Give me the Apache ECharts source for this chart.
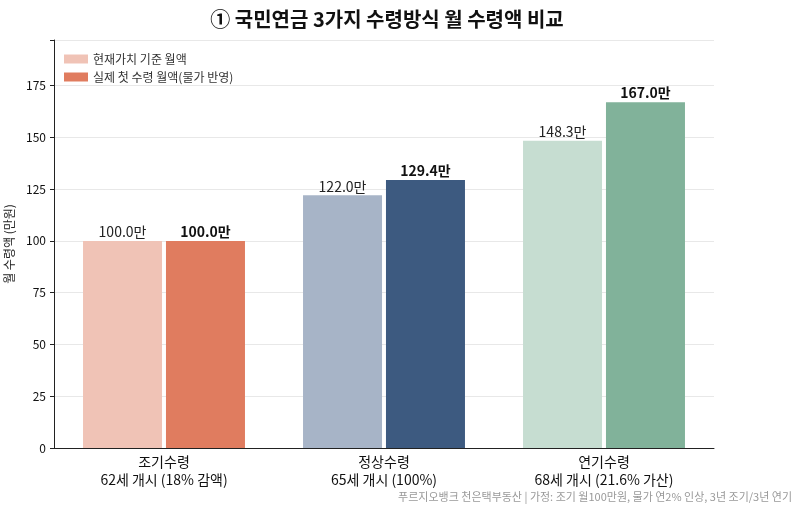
<!DOCTYPE html>
<html>
<head>
<meta charset="utf-8">
<script src="https://cdn.jsdelivr.net/npm/echarts@6/dist/echarts.min.js"></script>
<style>
  html, body { margin: 0; padding: 0; background: #fff; }
  #chart { width: 800px; height: 510px; }
</style>
</head>
<body>
<div id="chart"></div>
<script>
const categories = ['조기수령\n62세 개시 (18% 감액)', '정상수령\n65세 개시 (100%)', '연기수령\n68세 개시 (21.6% 가산)']
const presentValue = [100.0, 122.0, 148.3]
const actualValue = [100.0, 129.4, 167.0]
const lightColors = ['#f0c3b6', '#a7b4c7', '#c6ddd1']
const darkColors = ['#e07c5f', '#3d5a80', '#81b29a']
const yTicks = [0, 25, 50, 75, 100, 125, 150, 175]

const font = '"Noto Sans CJK KR", "Noto Sans", sans-serif'
const chart = echarts.init(document.getElementById('chart'))

const option = {
  backgroundColor: '#fff',
  textStyle: { fontFamily: font },
  title: {
    text: '① 국민연금 3가지 수령방식 월 수령액 비교',
    left: 382,
    textAlign: 'center',
    top: 4,
    textStyle: { fontFamily: font, fontSize: 20, fontWeight: 'bold', color: '#111' }
  },
  legend: {
    orient: 'vertical',
    left: 59,
    top: 48,
    icon: 'rect',
    itemWidth: 24,
    itemHeight: 9,
    itemGap: 6,
    textStyle: { fontFamily: font, fontSize: 12, color: '#333' },
    data: ['현재가치 기준 월액', '실제 첫 수령 월액(물가 반영)']
  },
  grid: { left: 54, right: 86, top: 40, bottom: 62, outerBoundsMode: 'none' },
  xAxis: {
    type: 'category',
    data: categories,
    axisLine: { lineStyle: { color: '#222', width: 1 } },
    axisTick: { alignWithLabel: true, length: 4, lineStyle: { color: '#222' } },
    axisLabel: { fontFamily: font, fontSize: 14, color: '#111', lineHeight: 18, margin: 5 }
  },
  yAxis: {
    type: 'value',
    min: 0,
    max: 197,
    interval: 25,
    name: '월 수령액 (만원)',
    nameLocation: 'middle',
    nameGap: 35,
    nameTextStyle: { fontFamily: font, fontSize: 12, color: '#222' },
    axisLine: { show: true, lineStyle: { color: '#222', width: 1 } },
    axisTick: { show: true, length: 4, lineStyle: { color: '#222' } },
    axisLabel: {
      fontFamily: font, fontSize: 12, color: '#111',
      formatter: v => (yTicks.includes(v) ? String(v) : '')
    },
    splitLine: { lineStyle: { color: '#e8e8e8', width: 1 } }
  },
  series: [
    {
      name: '현재가치 기준 월액',
      type: 'bar',
      barWidth: 79,
      barGap: '5%',
      itemStyle: { color: lightColors[0] },
      data: presentValue.map((v, i) => ({ value: v, itemStyle: { color: lightColors[i] } })),
      label: {
        show: true,
        position: 'top',
        distance: 2,
        fontFamily: font,
        fontSize: 14,
        color: '#222',
        formatter: p => p.value.toFixed(1) + '만'
      }
    },
    {
      name: '실제 첫 수령 월액(물가 반영)',
      type: 'bar',
      barWidth: 79,
      barGap: '5%',
      itemStyle: { color: darkColors[0] },
      data: actualValue.map((v, i) => ({ value: v, itemStyle: { color: darkColors[i] } })),
      label: {
        show: true,
        position: 'top',
        distance: 2,
        fontFamily: font,
        fontSize: 14,
        fontWeight: 'bold',
        color: '#111',
        formatter: p => p.value.toFixed(1) + '만'
      }
    }
  ],
  graphic: [
    {
      type: 'text',
      right: 8,
      bottom: 8,
      style: {
        text: '푸르지오뱅크 천은택부동산 | 가정: 조기 월100만원, 물가 연2% 인상, 3년 조기/3년 연기',
        fontFamily: font,
        fontSize: 11,
        fill: '#999'
      }
    }
  ]
}

chart.setOption(option)
window.addEventListener('resize', () => chart.resize())
</script>
</body>
</html>
